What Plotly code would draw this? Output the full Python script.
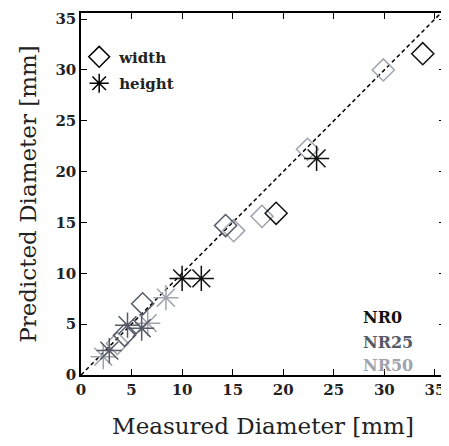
import plotly.graph_objects as go

# width (diamonds)
w_nr0_x = [33.8, 19.3]
w_nr0_y = [31.6, 15.9]
w_nr25_x = [14.3, 6.1, 4.3]
w_nr25_y = [14.7, 7.0, 3.9]
w_nr50_x = [29.9, 22.4, 17.9, 15.1, 3.6]
w_nr50_y = [30.0, 22.2, 15.6, 14.2, 3.1]

# height (asterisks)
h_nr0_x = [23.3, 10.0, 11.9]
h_nr0_y = [21.3, 9.5, 9.5]
h_nr25_x = [4.6, 6.0, 2.8]
h_nr25_y = [4.9, 4.6, 2.4]
h_nr50_x = [8.4, 6.6, 2.2]
h_nr50_y = [7.6, 5.1, 1.8]

diag = [0, 36]

C0, C25, C50 = "#111111", "#555a66", "#a0a4ae"
FONT = "DejaVu Serif"
TXT = "#222222"

fig = go.Figure()
fig.add_trace(go.Scatter(x=diag, y=diag, mode="lines",
                         line=dict(color="black", width=1.5, dash="4px,3px"),
                         showlegend=False, hoverinfo="skip"))

def diamonds(x, y, c, show=False, name=None):
    fig.add_trace(go.Scatter(x=x, y=y, mode="markers", name=name, showlegend=show,
                             marker=dict(symbol="diamond-open", size=17, color=c,
                                         line=dict(color=c, width=1.5))))

def stars(x, y, c, show=False, name=None):
    fig.add_trace(go.Scatter(x=x, y=y, mode="markers", name=name, showlegend=show,
                             marker=dict(symbol="asterisk-open", size=21, color=c,
                                         line=dict(color=c, width=1.5))))

diamonds(w_nr50_x, w_nr50_y, C50)
diamonds(w_nr25_x, w_nr25_y, C25)
diamonds(w_nr0_x, w_nr0_y, C0)
stars(h_nr50_x, h_nr50_y, C50)
stars(h_nr25_x, h_nr25_y, C25)
stars(h_nr0_x, h_nr0_y, C0)

# legend entries
fig.add_trace(go.Scatter(x=[None], y=[None], mode="markers", name="width", legendgroup="w",
                         marker=dict(symbol="diamond-open", size=16, color="black",
                                     line=dict(color="black", width=1.5))))
fig.add_trace(go.Scatter(x=[None], y=[None], mode="markers", name="height", legendgroup="h",
                         marker=dict(symbol="asterisk-open", size=16, color="black",
                                     line=dict(color="black", width=1.5))))

for txt, c, yy in [("NR0", C0, 5.67), ("NR25", C25, 3.23), ("NR50", C50, 0.98)]:
    fig.add_annotation(x=27.7, y=yy, text="<b>" + txt + "</b>", showarrow=False,
                       xanchor="left", yanchor="middle",
                       font=dict(family=FONT, size=16, color=c))

axis_common = dict(showline=True, linecolor="black", linewidth=1.5, mirror="ticks",
                   ticks="inside", ticklen=6, tickcolor="black", tickwidth=1,
                   showgrid=False, zeroline=False, dtick=5, tick0=0,
                   tickfont=dict(family=FONT, size=15, color=TXT, weight="bold"))

# page body has an 8px margin: size the figure so the plot lands where the reference has it
fig.update_layout(
    width=441, height=438,
    margin=dict(l=73, r=2, t=4, b=71),
    paper_bgcolor="white", plot_bgcolor="white",
    xaxis=dict(range=[0, 36],
               title=dict(text="Measured Diameter [mm]", standoff=20,
                          font=dict(family=FONT, size=23, color=TXT)),
               **axis_common),
    yaxis=dict(range=[0, 35.6],
               title=dict(text="Predicted Diameter [mm]", standoff=12,
                          font=dict(family=FONT, size=23, color=TXT)),
               **axis_common),
    legend=dict(x=-0.005, y=0.924, xanchor="left", yanchor="top",
                bgcolor="rgba(0,0,0,0)",
                font=dict(family=FONT, size=15, color=TXT, weight="bold"),
                itemsizing="trace", tracegroupgap=4),
)

fig.write_html("out.html")
